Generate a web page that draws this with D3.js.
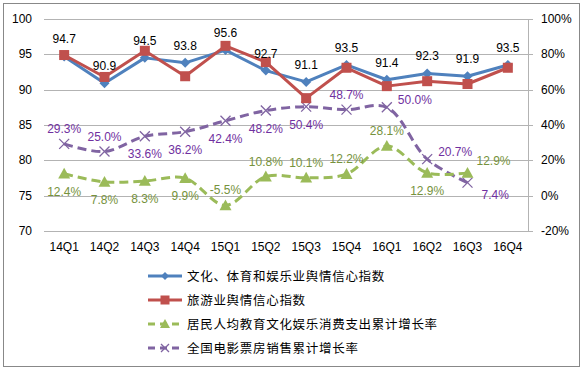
<!DOCTYPE html>
<html>
<head>
<meta charset="utf-8">
<script src="https://cdn.jsdelivr.net/npm/d3@7"></script>
<style>
  body { margin: 0; background: #fff; }
  text { font-family: "Liberation Sans", Arial, sans-serif; }
  .cjk { font-family: "Noto Sans CJK SC", sans-serif; }
</style>
</head>
<body>
<svg id="chart" width="584" height="371"></svg>
<script>
var categories = ['14Q1','14Q2','14Q3','14Q4','15Q1','15Q2','15Q3','15Q4','16Q1','16Q2','16Q3','16Q4'];
var cultureIndex = [94.7, 90.9, 94.5, 93.8, 95.6, 92.7, 91.1, 93.5, 91.4, 92.3, 91.9, 93.5];
var tourismIndex = [94.9, 91.8, 95.5, 91.9, 96.2, 93.9, 88.8, 93.1, 90.5, 91.2, 90.8, 93.1];
var consumeGrowth = [12.4, 7.8, 8.3, 9.9, -5.5, 10.8, 10.1, 12.2, 28.1, 12.9, 12.9];
var boxOfficeGrowth = [29.3, 25.0, 33.6, 36.2, 42.4, 48.2, 50.4, 48.7, 50.0, 20.7, 7.4];
var leftTicks = [70, 75, 80, 85, 90, 95, 100];
var rightTicks = [-20, 0, 20, 40, 60, 80, 100];
var seriesNames = ['文化、体育和娱乐业舆情信心指数', '旅游业舆情信心指数', '居民人均教育文化娱乐消费支出累计增长率', '全国电影票房销售累计增长率'];

// label placement codes
var consumePos = ['b','b','b','b','a','a','a','a','a','b','ar'];
var boxPos = ['a','a','b','b','b','b','b','a','r','r','br'];
var offsets = {
    a: { dx: 0, dy: -15, anchor: 'middle' },
    b: { dx: 0, dy: 18, anchor: 'middle' },
    r: { dx: 11, dy: -7, anchor: 'start' },
    br: { dx: 14, dy: 12, anchor: 'start' },
    ar: { dx: 9, dy: -12, anchor: 'start' }
};

var colors = ['#4F81BD', '#C0504D', '#9BBB59', '#8064A2'];
var labelColors = ['#000', '#000', '#76923C', '#7030A0'];

var svg = d3.select('#chart');

svg.append('rect')
    .attr('x', 3.5).attr('y', 3.5)
    .attr('width', 576).attr('height', 363)
    .attr('fill', '#fff').attr('stroke', '#888').attr('stroke-width', 1);

var x = d3.scaleBand().domain(categories).range([44, 528]),
    yL = d3.scaleLinear().domain([70, 100]).range([231, 19]),
    yR = d3.scaleLinear().domain([-20, 100]).range([231, 19]);

function cx(i){ return x(categories[i]) + x.bandwidth() / 2; }

// gridlines
svg.append('g').selectAll('line')
    .data(leftTicks)
    .join('line')
    .attr('x1', 44).attr('x2', 533)
    .attr('y1', function(d){ return Math.round(yL(d)) + 0.5; })
    .attr('y2', function(d){ return Math.round(yL(d)) + 0.5; })
    .attr('stroke', '#B3B3B3').attr('stroke-width', 1);

// right axis line
svg.append('line')
    .attr('x1', 528.5).attr('x2', 528.5)
    .attr('y1', Math.round(yR(100)) + 0.5).attr('y2', Math.round(yR(-20)) + 0.5)
    .attr('stroke', '#B3B3B3');

// left tick labels
svg.append('g').selectAll('text')
    .data(leftTicks)
    .join('text')
    .attr('x', 32).attr('y', function(d){ return yL(d) + 4; })
    .attr('text-anchor', 'end')
    .attr('font-size', 12)
    .text(function(d){ return d; });

// right tick labels
svg.append('g').selectAll('text')
    .data(rightTicks)
    .join('text')
    .attr('x', 541).attr('y', function(d){ return yR(d) + 4; })
    .attr('font-size', 12)
    .text(function(d){ return d + '%'; });

// category labels
svg.append('g').selectAll('text')
    .data(categories)
    .join('text')
    .attr('x', function(d){ return x(d) + x.bandwidth() / 2; })
    .attr('y', 251)
    .attr('text-anchor', 'middle')
    .attr('font-size', 12)
    .text(function(d){ return d; });

var straight = d3.line()
        .x(function(d, i){ return cx(i); }),
    smooth = d3.line()
        .x(function(d, i){ return cx(i); })
        .curve(d3.curveCatmullRom.alpha(0.5));

// markers
function diamond(g, px, py, s, color){
    g.append('path')
        .attr('d', 'M' + px + ',' + (py - s) + 'L' + (px + s) + ',' + py + 'L' + px + ',' + (py + s) + 'L' + (px - s) + ',' + py + 'Z')
        .attr('fill', color);
}
function square(g, px, py, s, color){
    g.append('rect')
        .attr('x', px - s).attr('y', py - s)
        .attr('width', 2 * s).attr('height', 2 * s)
        .attr('fill', color);
}
function triangle(g, px, py, s, color){
    g.append('path')
        .attr('d', 'M' + px + ',' + (py - s) + 'L' + (px + s) + ',' + (py + s * 0.8) + 'L' + (px - s) + ',' + (py + s * 0.8) + 'Z')
        .attr('fill', color);
}
function cross(g, px, py, s, color){
    g.append('path')
        .attr('d', 'M' + (px - s) + ',' + (py - s) + 'L' + (px + s) + ',' + (py + s) + 'M' + (px + s) + ',' + (py - s) + 'L' + (px - s) + ',' + (py + s))
        .attr('stroke', color).attr('stroke-width', 1.3).attr('fill', 'none');
}

// purple series
var gBox = svg.append('g');
gBox.append('path')
    .attr('d', smooth.y(function(d){ return yR(d); })(boxOfficeGrowth))
    .attr('fill', 'none').attr('stroke', colors[3]).attr('stroke-width', 3)
    .attr('stroke-dasharray', '9,5');
boxOfficeGrowth.forEach(function(v, i){ cross(gBox, cx(i), yR(v), 5, colors[3]); });

// green series
var gCons = svg.append('g');
gCons.append('path')
    .attr('d', smooth.y(function(d){ return yR(d); })(consumeGrowth))
    .attr('fill', 'none').attr('stroke', colors[2]).attr('stroke-width', 3)
    .attr('stroke-dasharray', '9,5');
consumeGrowth.forEach(function(v, i){ triangle(gCons, cx(i), yR(v), 6, colors[2]); });

// blue series
var gCult = svg.append('g');
gCult.append('path')
    .attr('d', straight.y(function(d){ return yL(d); })(cultureIndex))
    .attr('fill', 'none').attr('stroke', colors[0]).attr('stroke-width', 3)
    .attr('stroke-linejoin', 'round');
cultureIndex.forEach(function(v, i){ diamond(gCult, cx(i), yL(v), 5, colors[0]); });

// red series
var gTour = svg.append('g');
gTour.append('path')
    .attr('d', straight.y(function(d){ return yL(d); })(tourismIndex))
    .attr('fill', 'none').attr('stroke', colors[1]).attr('stroke-width', 3)
    .attr('stroke-linejoin', 'round');
tourismIndex.forEach(function(v, i){ square(gTour, cx(i), yL(v), 5, colors[1]); });

// data labels
var gLabels = svg.append('g').attr('font-size', 12);
cultureIndex.forEach(function(v, i){
    gLabels.append('text')
        .attr('x', cx(i)).attr('y', yL(v) - 17 + 4)
        .attr('text-anchor', 'middle')
        .attr('fill', labelColors[0])
        .text(v.toFixed(1));
});
function pctLabels(vals, pos, color){
    vals.forEach(function(v, i){
        var o = offsets[pos[i]];
        gLabels.append('text')
            .attr('x', cx(i) + o.dx).attr('y', yR(v) + o.dy + 4)
            .attr('text-anchor', o.anchor)
            .attr('fill', color)
            .text(v.toFixed(1) + '%');
    });
}
pctLabels(consumeGrowth, consumePos, labelColors[2]);
pctLabels(boxOfficeGrowth, boxPos, labelColors[3]);

// legend
var legend = svg.append('g'),
    legendY = [276, 300, 324, 348],
    markers = [diamond, square, triangle, cross],
    markerSize = [4, 4.5, 5, 4];
seriesNames.forEach(function(name, i){
    var ly = legendY[i];
    legend.append('line')
        .attr('x1', 148).attr('x2', 182)
        .attr('y1', ly).attr('y2', ly)
        .attr('stroke', colors[i]).attr('stroke-width', 3)
        .attr('stroke-dasharray', i > 1 ? '7,5' : null);
    markers[i](legend, 165, ly, markerSize[i], colors[i]);
    legend.append('text')
        .attr('class', 'cjk')
        .attr('x', 187).attr('y', ly + 4.5)
        .attr('font-size', 12.5)
        .attr('letter-spacing', 0.7)
        .text(name);
});
</script>
</body>
</html>
